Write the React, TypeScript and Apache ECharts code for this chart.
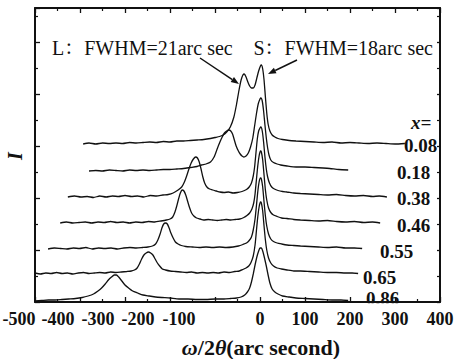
import React, { useEffect, useRef } from "react";
import * as echarts from "echarts";

// x = ω/2θ (arc second), h = intensity above the trace's own baseline (stacked display units)
const compositions = ["0.08", "0.18", "0.38", "0.46", "0.55", "0.65", "0.86"];
const offsets = [158, 131, 105, 79, 53, 28, 1];

const c008: [number, number][] = [[-393,0],[-380,1],[-365,0],[-350,1],[-335,0.5],[-320,1],[-305,0.5],[-290,1.5],[-275,1],[-260,1.5],[-245,2],[-230,1.5],[-215,2.5],[-200,2],[-185,3],[-170,3],[-155,3.5],[-140,4],[-125,4.5],[-110,5.5],[-100,6.5],[-90,7.5],[-82,9],[-74,12],[-66,17],[-58,27],[-52,40],[-47,53],[-42,64],[-38,69],[-35,70],[-31,67],[-27,62],[-23,58],[-19,56],[-15,56],[-11,59],[-7,66],[-3,73],[1,78],[3,79],[6,75],[9,64],[12,47],[15,31],[18,20],[22,13],[27,9],[33,7],[40,5.5],[50,4.5],[65,3.5],[80,3],[100,2.5],[120,2],[140,1.5],[160,2],[180,1],[200,1.5],[220,1],[240,0.5],[260,1],[280,0.5],[300,0],[322,0.5]];
const c018: [number, number][] = [[-380,0],[-365,0.5],[-350,0],[-335,1],[-320,0.5],[-305,0],[-290,1],[-275,0.5],[-260,1],[-245,0.5],[-230,1],[-215,1.5],[-200,1.5],[-185,2],[-170,2.5],[-155,3.5],[-140,4.5],[-130,6],[-120,7],[-110,9],[-102,14],[-96,21],[-90,28],[-84,34],[-79,38],[-74,40],[-69,41],[-65,40],[-61,37],[-57,31],[-53,25],[-48,20],[-44,17],[-40,15],[-36,14],[-31,15],[-26,18],[-21,24],[-16,33],[-12,45],[-8,57],[-4,67],[0,72],[2,73],[5,70],[8,60],[11,46],[14,33],[17,23],[20,16],[24,11],[30,8.5],[38,7],[46,6],[60,5],[80,4],[100,4],[120,3.5],[140,3],[155,2.5],[175,1.5],[196,1]];
const c038: [number, number][] = [[-427,0],[-412,1],[-398,0],[-384,0.5],[-370,-0.5],[-356,1],[-342,0],[-328,1],[-314,0.5],[-300,1.5],[-286,0.5],[-272,1],[-258,0],[-244,1.5],[-230,1],[-216,2],[-204,2.5],[-193,4],[-182,7],[-174,10],[-168,15],[-163,21],[-158,28],[-153,34],[-148,38],[-143,40],[-139,39],[-135,35],[-131,28],[-127,20],[-123,14],[-118,10],[-112,8],[-105,7],[-97,6],[-89,5],[-80,4.5],[-70,5],[-60,4],[-50,4.5],[-40,5.5],[-30,7.5],[-24,10],[-19,14],[-15,21],[-12,30],[-9,44],[-6,58],[-3,66],[0,69],[2,70],[5,66],[8,55],[11,40],[14,28],[17,20],[21,14],[26,10],[32,8],[40,6.5],[50,5.5],[60,5],[75,4],[90,3.5],[110,3],[130,2.5],[150,2],[170,2.5],[190,1.5],[210,1],[230,1.5],[250,0.5],[265,1],[282,0]];
const c046: [number, number][] = [[-444,0],[-430,1],[-416,0],[-402,0.5],[-388,1],[-374,0],[-360,1],[-346,0.5],[-332,1.5],[-318,0.5],[-304,1],[-290,0],[-276,1],[-262,0.5],[-248,1.5],[-234,1],[-220,2],[-208,3],[-200,4],[-194,6],[-189,11],[-185,17],[-181,24],[-177,30],[-173,33],[-169,32],[-165,28],[-161,22],[-157,16],[-152,10],[-147,7],[-141,5],[-133,4],[-125,3],[-115,3.5],[-105,3],[-95,2.5],[-85,3],[-75,3.5],[-65,3],[-55,3.5],[-45,4],[-36,5.5],[-29,7.5],[-23,10],[-18,14],[-14,20],[-11,29],[-8,43],[-5,57],[-2,67],[1,72],[3,71],[6,63],[9,48],[12,33],[15,23],[19,15],[24,10.5],[30,8],[38,6.5],[48,5],[60,4.5],[75,3.5],[90,3],[110,2.5],[130,2],[150,2.5],[170,1.5],[190,1],[210,1.5],[230,0.5],[250,1],[267,0]];
const c055: [number, number][] = [[-471,0],[-457,1],[-443,0.5],[-429,0],[-415,1],[-401,0.5],[-387,1.5],[-373,0],[-359,1],[-345,0.5],[-331,1],[-317,0],[-303,1],[-289,1.5],[-275,1],[-261,1.5],[-249,2],[-239,3],[-232,5],[-227,9],[-222,15],[-218,21],[-214,25],[-210,26],[-206,25],[-202,21],[-198,16],[-193,11],[-188,7],[-182,5],[-175,3.5],[-165,2.5],[-150,2],[-135,1.5],[-120,2],[-105,1.5],[-90,2],[-75,1.5],[-60,2],[-48,3],[-38,4.5],[-30,6],[-24,8.5],[-19,12],[-15,19],[-11,30],[-8,43],[-5,57],[-2,67],[1,71],[3,70],[6,62],[9,47],[12,33],[15,23],[19,15],[24,10],[30,7.5],[38,6],[48,5],[60,4],[75,3.5],[90,3],[110,2.5],[130,2],[150,1.5],[170,2],[190,1],[210,1],[227,0.5]];
const c065: [number, number][] = [[-500,1],[-488,0],[-476,1],[-464,0.5],[-452,1.5],[-440,0.5],[-428,1],[-416,0],[-404,1],[-392,1.5],[-380,0.5],[-368,1],[-356,1.5],[-344,1],[-332,2],[-320,1.5],[-308,2],[-296,2.5],[-286,3],[-279,4],[-273,6],[-268,10],[-263,15],[-258,19],[-253,21],[-248,22],[-243,21],[-238,19],[-233,15],[-228,11],[-223,8],[-217,5],[-210,4],[-200,3],[-188,2.5],[-176,2],[-164,1.5],[-152,2],[-140,1],[-128,1.5],[-116,1],[-104,1.5],[-92,1],[-80,2],[-68,1.5],[-56,2.5],[-46,3],[-38,4.5],[-31,6],[-25,8],[-20,11.5],[-15,18],[-11,29],[-8,43],[-5,57],[-2,67],[1,72],[3,71],[6,63],[9,48],[12,34],[15,24],[19,16],[24,11],[30,8],[38,6],[48,5],[60,4],[75,3],[90,3],[110,2.5],[130,2],[150,1.5],[170,1.5],[190,1],[205,1],[218,0.5]];
const c086: [number, number][] = [[-500,0],[-485,0.5],[-470,1],[-455,1],[-440,1.5],[-425,2],[-410,2.5],[-395,3.5],[-382,5],[-370,7],[-360,10],[-352,13],[-344,17],[-337,21],[-330,24],[-324,26],[-319,26],[-314,24],[-307,20],[-300,16],[-292,13],[-283,10],[-272,8],[-260,6],[-246,5],[-232,4],[-218,3.5],[-200,3],[-180,2],[-160,2],[-140,1.5],[-120,1.5],[-100,2],[-80,2],[-65,2.5],[-52,3],[-42,4],[-34,6],[-28,9],[-23,13],[-19,19],[-15,27],[-11,36],[-7,44],[-3,50],[0,53],[3,53],[6,50],[10,43],[14,35],[18,26],[22,18],[27,12],[33,9],[40,7],[50,5],[65,4],[80,3],[100,2.5],[120,2],[140,1.5],[160,1],[180,1],[196,0.5]];
const traces = [c008, c018, c038, c046, c055, c065, c086];

const xTicks = [-500, -400, -300, -200, -100, 0, 100, 200, 300, 400];
// the printed negative tick labels sit left of their ticks; right padding (px) reproduces it
const xLabelPad = [32, 44, 54, 64, 72, 0, 0, 0, 0, 0];
const annotationL = "L：FWHM=21arc sec";
const annotationS = "S：FWHM=18arc sec";

const FONT = "'Liberation Serif', 'Times New Roman', 'Noto Serif CJK SC', 'Noto Sans CJK SC', serif";
const INK = "#111";

function arrow(x1: number, y1: number, x2: number, y2: number) {
  const dx = x2 - x1, dy = y2 - y1;
  const len = Math.sqrt(dx * dx + dy * dy);
  const ux = dx / len, uy = dy / len;
  const hl = 8, hw = 3;
  const bx = x2 - ux * hl, by = y2 - uy * hl;
  return [
    { type: "line", shape: { x1, y1, x2: bx, y2: by }, style: { stroke: INK, lineWidth: 1.5 } },
    { type: "polygon", shape: { points: [[x2, y2], [bx - uy * hw, by + ux * hw], [bx + uy * hw, by - ux * hw]] }, style: { fill: INK } },
  ];
}

const labelPos: [number, number][] = [[404, 145], [397, 172], [397, 198], [397, 225], [380, 251], [363, 277], [366, 298]];

export default function App() {
  const ref = useRef<HTMLDivElement>(null);
  useEffect(() => {
    if (!ref.current) return;
    const chart = echarts.init(ref.current, undefined, { renderer: "svg" });
    const axisCommon = {
      axisLine: { show: true, onZero: false, lineStyle: { color: INK, width: 2 } },
      axisTick: { show: true, inside: true, length: 5, lineStyle: { color: INK, width: 1.3 } },
      minorTick: { show: true, splitNumber: 2, length: 3, lineStyle: { color: INK, width: 1.2 } },
      splitLine: { show: false },
    };
    const rich: any = {};
    xTicks.forEach((t, i) => {
      rich["t" + i] = { fontFamily: FONT, fontSize: 18, fontWeight: "bold", color: INK, padding: [0, xLabelPad[i], 0, 0] };
    });
    const txt = (text: string, x: number, y: number, align = "left", font = `bold 19px ${FONT}`) => ({
      type: "text", x, y, z: 50,
      style: { text, font, fill: INK, align, verticalAlign: "middle", textAlign: align, textVerticalAlign: "middle" },
    });
    chart.setOption({
      animation: false,
      grid: { left: 35, right: 15, top: 8, bottom: 57, containLabel: false, outerBoundsMode: "none" },
      xAxis: [
        {
          type: "value", min: -500, max: 400, interval: 100, position: "bottom",
          ...axisCommon,
          axisLabel: {
            show: true, margin: 8, color: INK, fontFamily: FONT, fontSize: 18, fontWeight: "bold", rich,
            formatter: (v: number) => {
              const i = xTicks.indexOf(v);
              return i < 0 ? "" : `{t${i}|${v}}`;
            },
          },
        },
        { type: "value", min: -500, max: 400, interval: 100, position: "top", ...axisCommon, axisLabel: { show: false } },
      ],
      yAxis: [
        { type: "value", min: 0, max: 294, interval: 52, position: "left", ...axisCommon, axisLabel: { show: false } },
        { type: "value", min: 0, max: 294, interval: 52, position: "right", ...axisCommon,
          axisTick: { ...axisCommon.axisTick, length: 3 }, axisLabel: { show: false } },
      ],
      series: traces.map((t, i) => ({
        type: "line",
        name: compositions[i],
        xAxisIndex: 0, yAxisIndex: 0,
        showSymbol: false, symbol: "none",
        smooth: 0.2,
        clip: true,
        lineStyle: { color: INK, width: 1.3 },
        data: t.map(([x, h]) => [x, h + offsets[i]]),
      })),
      graphic: [
        txt(annotationL, 52, 48, "left", `20px ${FONT}`),
        txt(annotationS, 433, 48, "right", `20px ${FONT}`),
        ...arrow(200, 58, 239, 84),
        ...arrow(297, 60, 268, 74),
        txt("x=", 411, 122, "left", `italic bold 19px ${FONT}`),
        ...compositions.map((c, i) => txt(c, labelPos[i][0], labelPos[i][1])),
        { type: "rect", z: 60, shape: { x: 355, y: 303.2, width: 50, height: 6 }, style: { fill: "#fff" } },
        {
          type: "text", x: 15, y: 156, rotation: Math.PI / 2, originX: 0, originY: 0, z: 50,
          style: { text: "I", x: 0, y: 0, font: `italic bold 20px ${FONT}`, fill: INK, align: "center", verticalAlign: "middle", textAlign: "center", textVerticalAlign: "middle" },
        },
        {
          type: "text", x: 261, y: 347, z: 50,
          style: {
            text: "{i|ω}/2{i|θ}(arc second)",
            font: `bold 22px ${FONT}`, fill: INK, align: "center", verticalAlign: "middle", textAlign: "center", textVerticalAlign: "middle",
            rich: { i: { fontStyle: "italic", fontWeight: "bold", fontSize: 22, fontFamily: FONT, fill: INK } },
          },
        },
      ],
    });
    return () => chart.dispose();
  }, []);
  return <div ref={ref} style={{ width: 455, height: 359, position: "absolute", left: 0, top: 0 }} />;
}
